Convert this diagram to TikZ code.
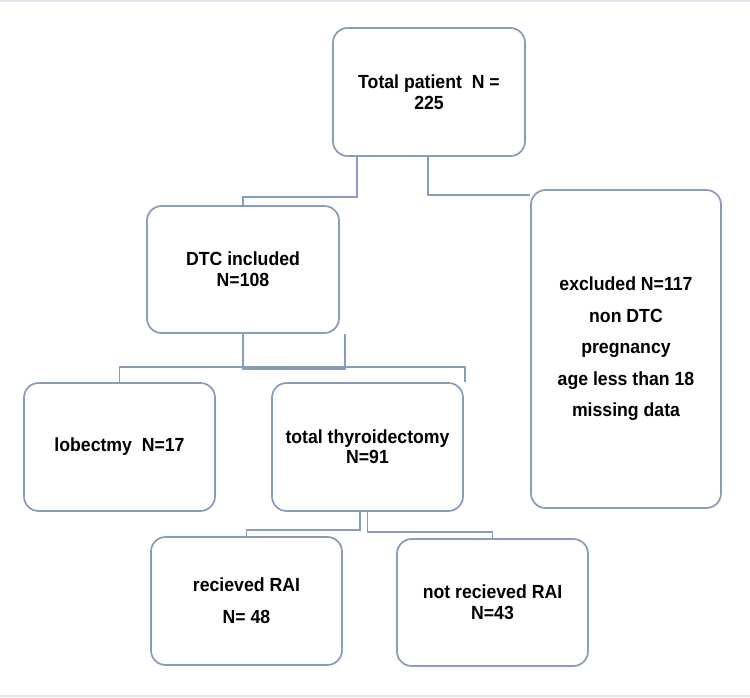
\documentclass[tikz,border=0pt]{standalone}
\usepackage{fontspec}
\newfontfamily\boxfont{Liberation Sans}[FakeStretch=0.93]
\usetikzlibrary{calc}
\definecolor{boxline}{RGB}{138,156,190}
\definecolor{frameline}{RGB}{220,230,242}
\begin{document}
\begin{tikzpicture}[x=0.75pt,y=-0.75pt,
  flowbox/.style={draw=boxline, line width=1.3pt, rounded corners=11pt,
    align=center, inner sep=2pt, text=black,
    font=\boxfont\bfseries\fontsize{14.25}{16}\selectfont},
  conn/.style={draw=boxline, line width=1.3pt}]
\useasboundingbox (0,0) rectangle (750,697);
\fill[white] (0,0) rectangle (750,697);
\draw[frameline, line width=1.5pt] (0,1) -- (750,1);
\draw[frameline, line width=1.5pt] (0,696) -- (750,696);

\node[flowbox, minimum width=144pt, minimum height=96pt] (top) at (429,92) {Total patient\ \ N =\\225};
\node[flowbox, minimum width=144pt, minimum height=95.25pt] (dtc) at (243,269.5) {DTC included\\N=108};
\node[flowbox, minimum width=142.5pt, minimum height=238.5pt,
  font=\boxfont\bfseries\fontsize{14.25}{23.6}\selectfont] (excl) at (626,349)
  {excluded\ N=117\\non DTC\\pregnancy\\age less than 18\\missing\ data};
\node[flowbox, minimum width=143.25pt, minimum height=96pt] (lob) at (119.5,447) {lobectmy\ \ N=17};
\node[flowbox, minimum width=143.25pt, minimum height=96pt,
  font=\boxfont\bfseries\fontsize{14.25}{15}\selectfont] (tt) at (367.5,447) {total thyroidectomy\\N=91};
\node[flowbox, minimum width=143.25pt, minimum height=96pt,
  font=\boxfont\bfseries\fontsize{14.25}{24}\selectfont] (rec) at (246.5,601) {recieved\ RAI\\N= 48};
\node[flowbox, minimum width=143.25pt, minimum height=95.25pt,
  font=\boxfont\bfseries\fontsize{14.25}{15.75}\selectfont] (notrec) at (492.5,602.5) {not recieved\ RAI\\N=43};

% top -> DTC
\draw[conn] ([xshift=-54pt]top.south) -- ++(0,40) -| (dtc.north);
% top -> excluded
\draw[conn] ([xshift=-0.75pt]top.south) |- ([yshift=-4.5pt]excl.north west);
% DTC -> bus
\draw[conn] (dtc.south) -- ++(0,35) -| ([xshift=3.75pt]dtc.south east);
% bus -> lobectomy / total thyroidectomy
\draw[conn] (lob.north) -- ++(0,-15) -| ([xshift=0.75pt]tt.north east);
% total thyroidectomy -> RAI boxes
\draw[conn] ([xshift=-5.6pt]tt.south) -- ++(0,18) -| (rec.north);
\draw[conn] (tt.south) -- ++(0,20) -| (notrec.north);
\end{tikzpicture}
\end{document}
